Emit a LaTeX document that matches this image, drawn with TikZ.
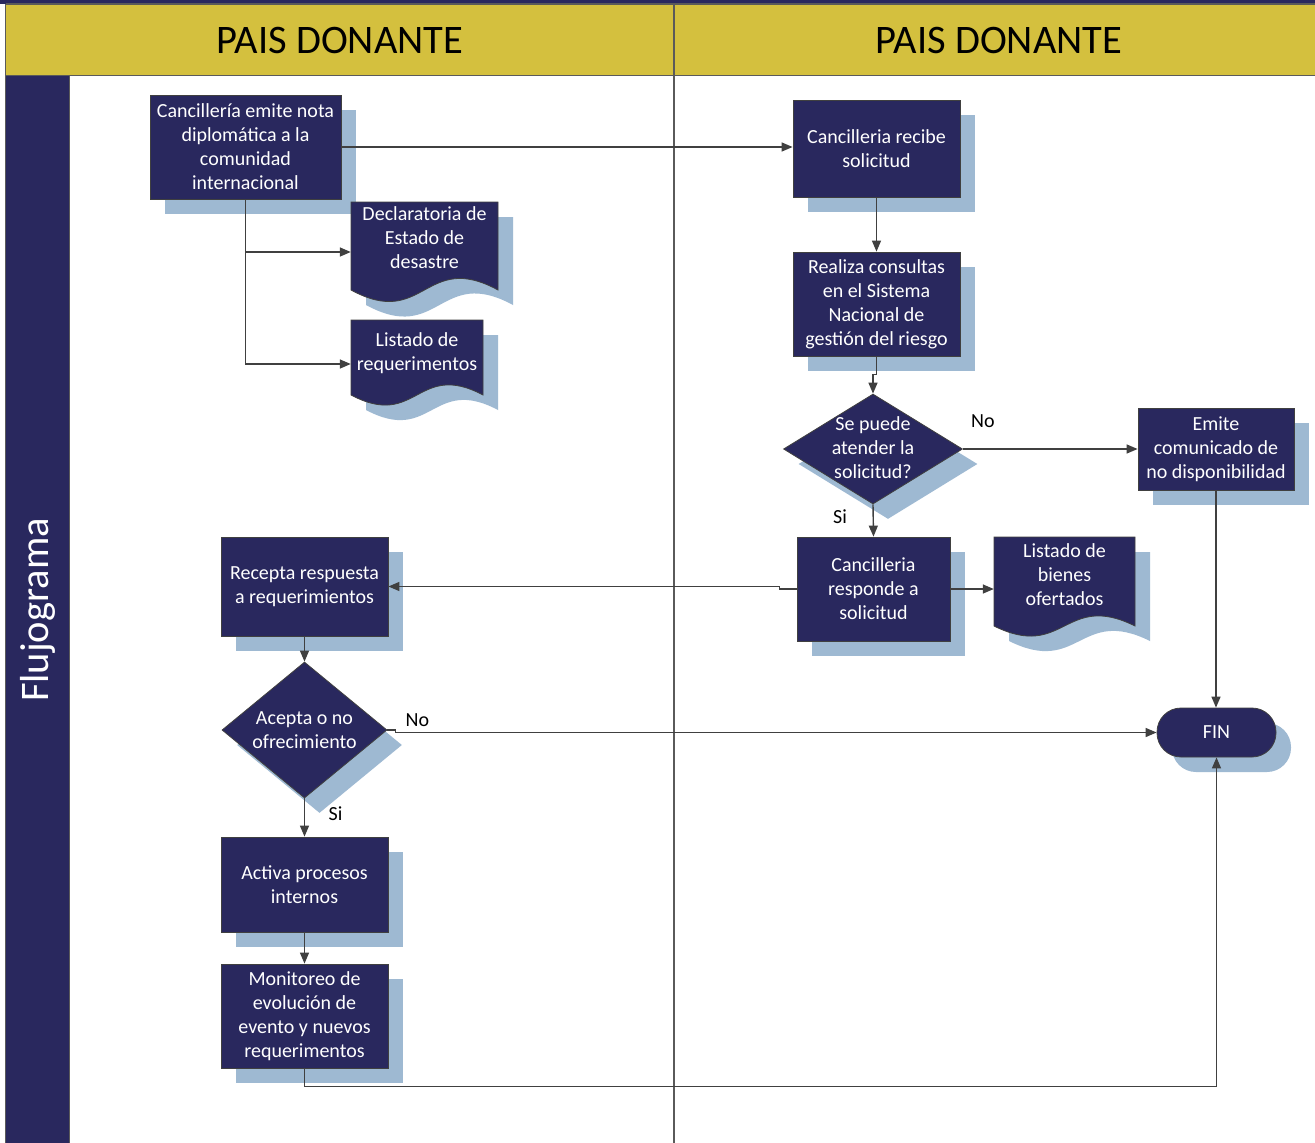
\documentclass[tikz,border=0pt]{standalone}
\usepackage{fontspec}
\setmainfont{Carlito}
\usetikzlibrary{shapes.geometric,arrows.meta,shadows}
\definecolor{navy}{RGB}{41,40,94}
\definecolor{gold}{RGB}{212,192,62}
\definecolor{shade}{RGB}{158,185,210}
\definecolor{edge}{RGB}{64,64,64}
\definecolor{framegray}{RGB}{90,90,90}
\newcommand\bxfont{\fontsize{20}{24}\selectfont}
\newcommand\hdfont{\fontsize{40.5}{48}\selectfont}
\newcommand\docshp[5]{\path[docshape] (#1,#2) -- ({#1+#3},#2) -- ({#1+#3},{#2+#4}) .. controls ({#1+0.5*#3},{#2+#4-#5}) and ({#1+0.5*#3},{#2+#4+#5}) .. (#1,{#2+#4}) -- cycle;}
\begin{document}
\begin{tikzpicture}[x=1pt,y=-1pt,
  conn/.style={draw=edge, line width=1.4pt, -{Triangle[length=11pt,width=9pt]}},
  shadowed/.style={drop shadow={shadow xshift=15pt, shadow yshift=-15pt, fill=shade, draw=none, opacity=1}},
  box/.style={shadowed, draw=edge, line width=0.8pt, fill=navy, text=white, align=center, font=\bxfont, inner sep=0pt},
  doctext/.style={text=white, align=center, font=\bxfont, inner sep=0pt},
  docshape/.style={shadowed, draw=edge, line width=0.8pt, fill=navy},
  decision/.style={shadowed, diamond, draw=edge, line width=0.8pt, fill=navy, inner sep=0pt},
  dtext/.style={text=white, align=center, font=\bxfont, inner sep=0pt},
  lbl/.style={font=\bxfont, text=black, inner sep=1pt},
  header/.style={font=\hdfont, text=black},
  frameline/.style={draw=framegray, line width=1.5pt}
]
\useasboundingbox (0,0) rectangle (1315,1143);
% frame
\fill[white] (0,0) rectangle (1315,1143);
\fill[navy] (0,0) rectangle (1315,3.5);
\fill[gold] (6,4) rectangle (1315,75);
\fill[navy] (6,75) rectangle (69,1143);
\draw[frameline] (6,4.2) -- (1315,4.2);
\draw[frameline] (5.5,3.5) -- (5.5,1143);
\draw[frameline] (6,75.5) -- (1315,75.5);
\draw[frameline] (674,4) -- (674,1143);
\draw[frameline] (69.5,75) -- (69.5,1143);
\node[header] (h1) at (340,40) {PAIS DONANTE};
\node[header] (h2) at (999,40) {PAIS DONANTE};
\node[rotate=90, font=\hdfont, text=white] (flujo) at (38,610) {Flujograma};

% left lane boxes
\node[box, minimum width=191pt, minimum height=104pt] (box1) at (245.5,147) {Cancillería emite nota\\diplomática a la\\comunidad\\internacional};
\docshp{351}{202}{147}{88}{40}
\node[doctext, minimum width=147pt] (decl) at (424.5,238) {Declaratoria de\\Estado de\\desastre};
\docshp{351}{320}{132}{75}{35}
\node[doctext, minimum width=132pt] (lreq) at (417,353) {Listado de\\requerimentos};

\node[box, minimum width=167pt, minimum height=99pt] (recepta) at (304.5,586.5) {Recepta respuesta\\a requerimientos};
\node[decision, minimum width=165pt, minimum height=136pt] (dia2) at (304.5,730) {};
\node[dtext] (dia2t) at (304.5,730) {Acepta o no\\ofrecimiento};
\node[box, minimum width=167pt, minimum height=95pt] (activa) at (304.5,884.5) {Activa procesos\\internos};
\node[box, minimum width=167pt, minimum height=104pt] (monit) at (304.5,1016) {Monitoreo de\\evolución de\\evento y nuevos\\requerimentos};

% right lane
\node[box, minimum width=167pt, minimum height=97pt] (recibe) at (876.5,148.5) {Cancilleria recibe\\solicitud};
\node[box, minimum width=167pt, minimum height=104pt] (consultas) at (876.5,304) {Realiza consultas\\en el Sistema\\Nacional de\\gestión del riesgo};
\node[decision, minimum width=179pt, minimum height=110pt] (dia1) at (873,449) {};
\node[dtext] (dia1t) at (873,448) {Se puede\\atender la\\solicitud?};
\node[box, minimum width=156pt, minimum height=82pt] (emite) at (1216,449) {Emite\\comunicado de\\no disponibilidad};
\node[box, minimum width=153pt, minimum height=104pt] (responde) at (873.5,589) {Cancilleria\\responde a\\solicitud};
\docshp{994}{537}{141}{89}{35}
\node[doctext, minimum width=141pt] (bienes) at (1064.5,575) {Listado de\\bienes\\ofertados};
\node[box, rounded corners=24pt, minimum width=119pt, minimum height=49pt] (fin) at (1216.5,732.5) {FIN};

% connectors
\draw[conn] (box1.east) -- (box1.east -| recibe.west);
\draw[conn] (box1.south) |- ([yshift=-14pt]decl.west);
\draw[conn] (box1.south) |- ([yshift=-11pt]lreq.west);
\draw[conn] (recibe.south) -- (consultas.north);
\draw[conn] (consultas.south) -- ++(0,18) -| (dia1.north);
\draw[conn] (dia1.east) -- (emite.west);
\node[lbl] (no1) at ([xshift=20pt,yshift=28pt]dia1.east) {No};
\draw[conn] (dia1.south) -- (responde.north);
\node[lbl] (si1) at ([xshift=-33pt,yshift=-12pt]dia1.south) {Si};
\draw[conn] (emite.south) -- (emite.south |- fin.north);
\draw[conn] (responde.east) -- (responde.east -| bienes.west);
\draw[conn] (responde.west) -- ++(-17,0) |- (recepta.east);
\draw[conn] (recepta.south) -- (dia2.north);
\draw[conn] (dia2.east) -- ++(8,0) |- (fin.west);
\node[lbl] (no2) at ([xshift=30pt,yshift=10pt]dia2.east) {No};
\draw[conn] (dia2.south) -- (activa.north);
\node[lbl] (si2) at ([xshift=31pt,yshift=-15pt]dia2.south) {Si};
\draw[conn] (activa.south) -- (monit.north);
\draw[conn] (monit.south) -- ++(0,18) -| (fin.south);
\end{tikzpicture}
\end{document}
